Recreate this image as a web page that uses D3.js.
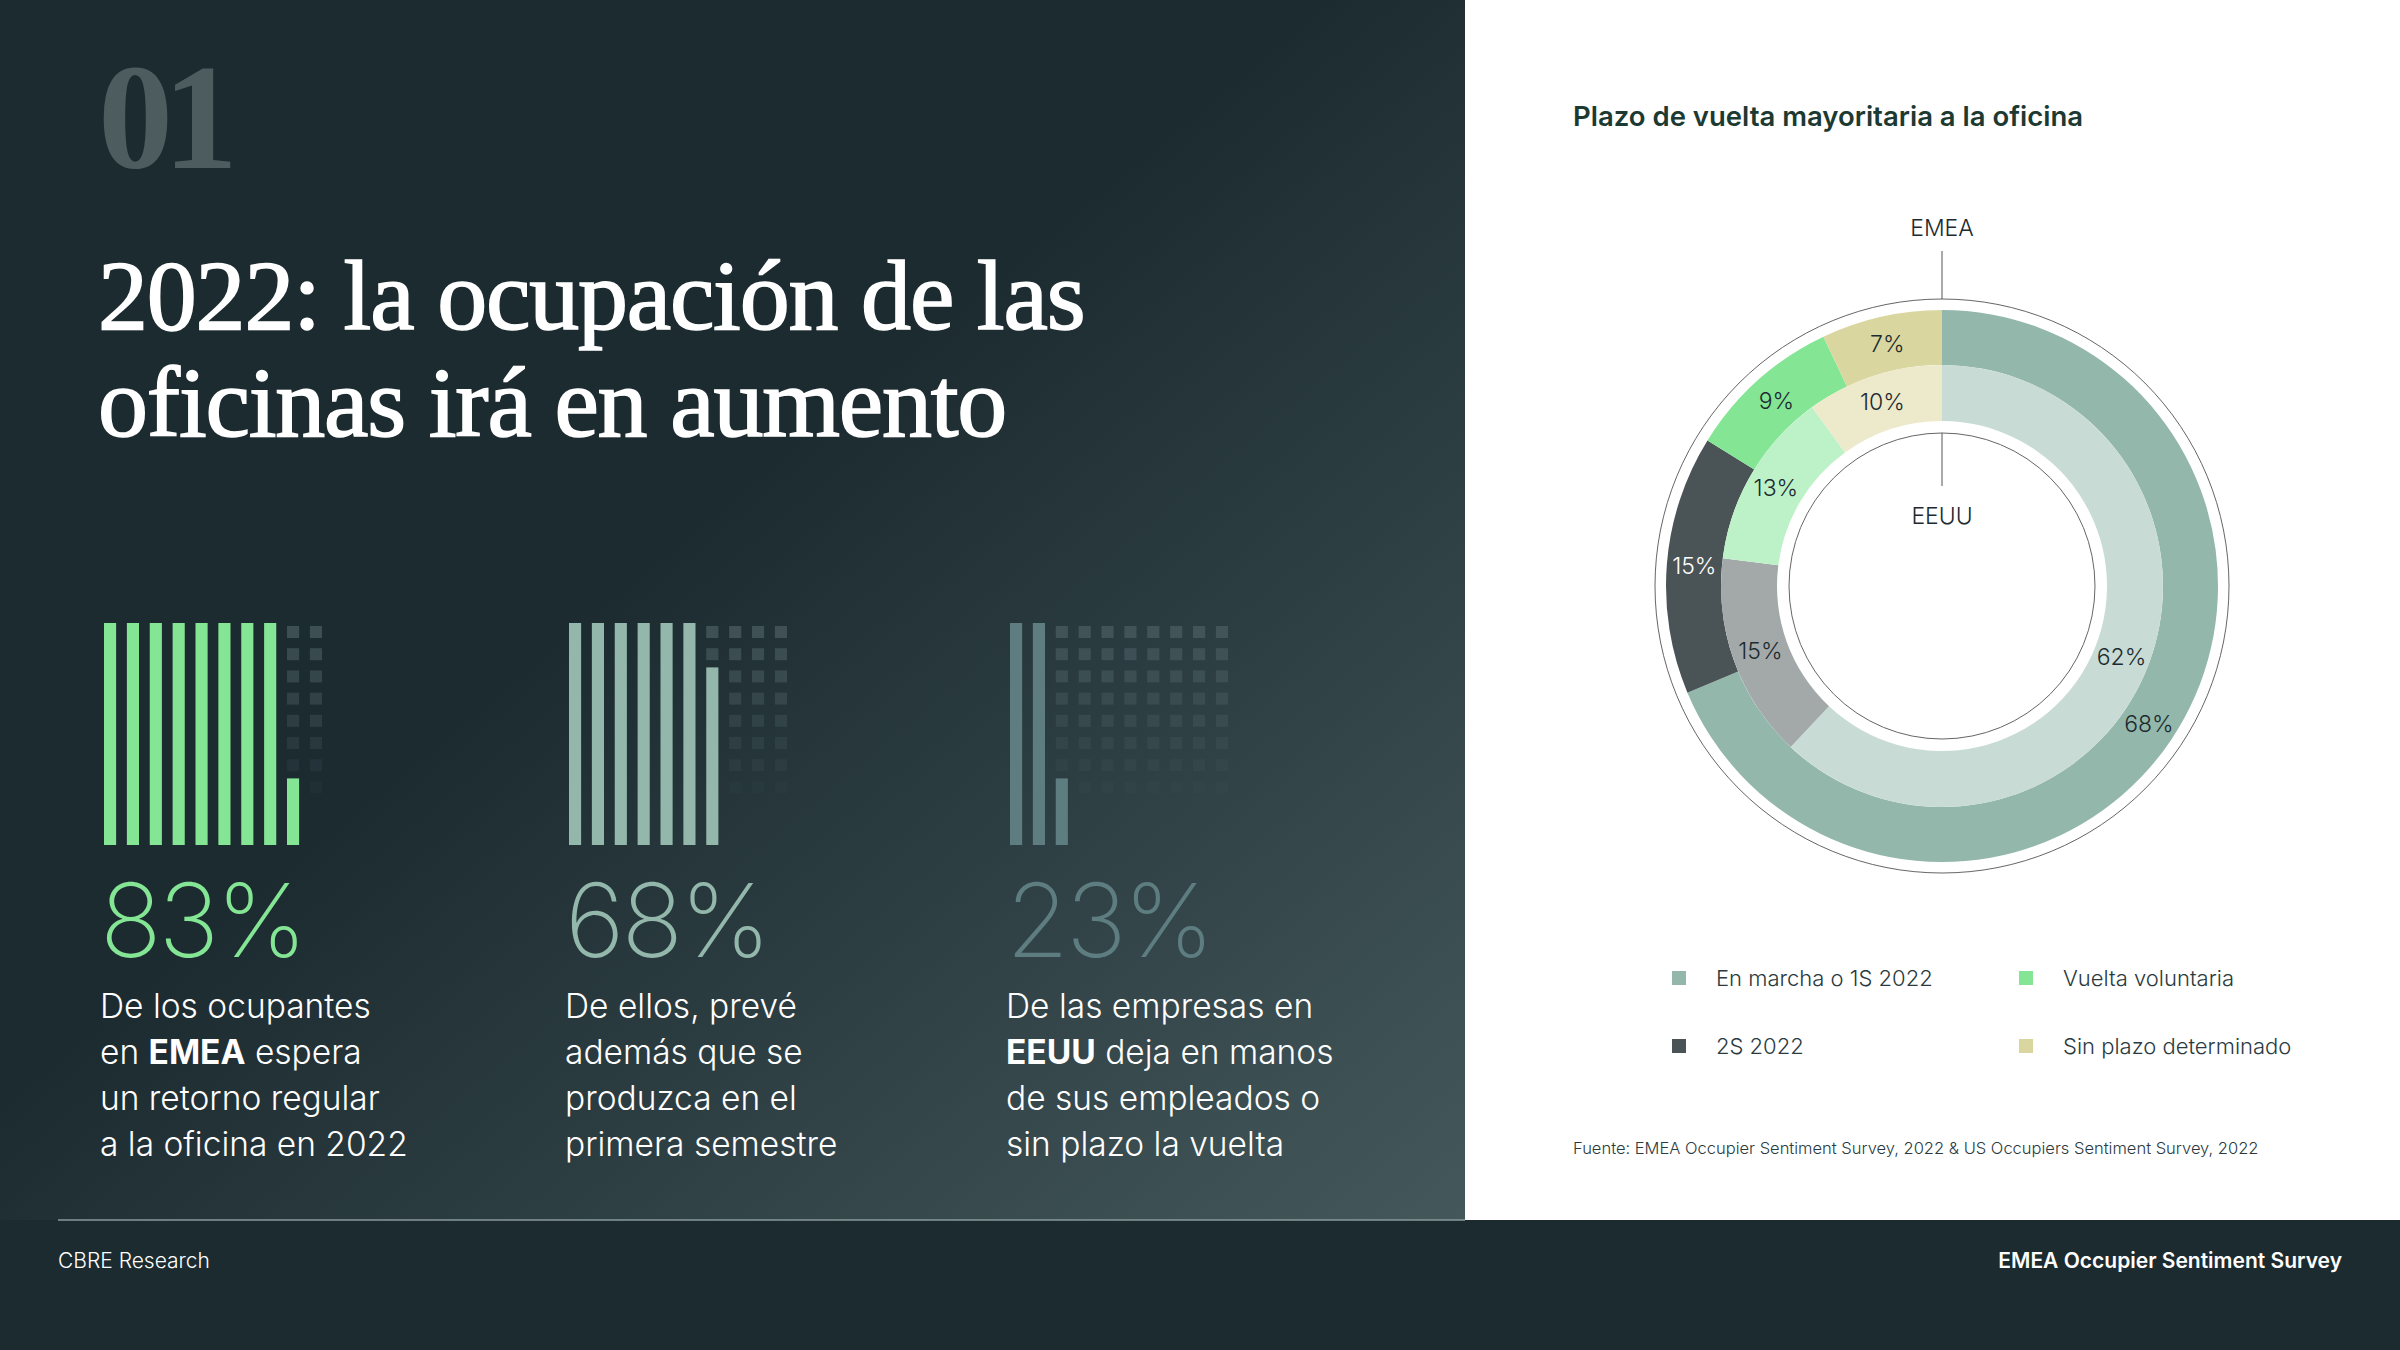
<!DOCTYPE html>
<html><head><meta charset="utf-8">
<script src="https://cdn.jsdelivr.net/npm/d3@7"></script>
<style>body{margin:0;background:#1c2b30}svg{display:block}</style></head>
<body><svg id="c" width="2400" height="1350"></svg>
<script>
const statValues = [83, 68, 23];
const statColors = ["#84e594", "#93b8ab", "#5e7d80"];
const statLines = [
  [["De los ocupantes"], ["en ", "EMEA", " espera"], ["un retorno regular"], ["a la oficina en 2022"]],
  [["De ellos, prevé"], ["además que se"], ["produzca en el"], ["primera semestre"]],
  [["De las empresas en"], ["", "EEUU", " deja en manos"], ["de sus empleados o"], ["sin plazo la vuelta"]]
];
const columnFill = [[1,1,1,1,1,1,1,1,0.3,0],[1,1,1,1,1,1,0.8,0,0,0],[1,1,0.3,0,0,0,0,0,0,0]];
const categories = ["En marcha o 1S 2022", "2S 2022", "Vuelta voluntaria", "Sin plazo determinado"];
const emeaValues = [68, 15, 9, 7];
const eeuuValues = [62, 15, 13, 10];
const emeaColors = ["#93b8ab", "#4a5356", "#84e594", "#d9d79f"];
const eeuuColors = ["#c8dcd5", "#a3a9a9", "#bdf2c8", "#ede9cb"];

const svg = d3.select("#c");
const defs = svg.append("defs");
const g = defs.append("linearGradient").attr("id","bg").attr("x1","0").attr("y1","0").attr("x2","1").attr("y2","1");
g.append("stop").attr("offset","0.45").attr("stop-color","#1c2b30");
g.append("stop").attr("offset","1").attr("stop-color","#44585b");
svg.append("rect").attr("width",2400).attr("height",1350).attr("fill","#1c2b30");
svg.append("rect").attr("width",1465).attr("height",1220).attr("fill","url(#bg)");
svg.append("rect").attr("x",1465).attr("width",935).attr("height",1220).attr("fill","#fff");
svg.append("line").attr("x1",58).attr("x2",1465).attr("y1",1220).attr("y2",1220).attr("stroke","#8a9a9b").attr("stroke-width",1.5);

svg.append("text").attr("x",98).attr("y",168).text("01").attr("font-family","Liberation Serif").attr("font-weight","bold").attr("font-size",150).attr("fill","#4c5c5f").attr("letter-spacing",-10);
["2022: la ocupación de las","oficinas irá en aumento"].forEach((t,i)=>
  svg.append("text").attr("x",98).attr("y",329+i*107).text(t).attr("font-family","Liberation Serif").attr("font-size",100).attr("fill","#fff").attr("stroke","#fff").attr("stroke-width",1.6).attr("letter-spacing",-1.2));

// stat bar charts
const chartX = [104, 569, 1010];
const yB = d3.scaleLinear().domain([0,1]).range([845, 623]);
const xCol = d3.scaleBand().domain(d3.range(10)).paddingInner(0.47).paddingOuter(0);
statValues.forEach((v,k)=>{
  const gg = svg.append("g");
  xCol.range([chartX[k], chartX[k]+218]);
  columnFill[k].forEach((f,c)=>{
    if (f>0) gg.append("rect").attr("x",xCol(c)).attr("width",xCol.bandwidth()).attr("y",yB(f)).attr("height",yB(0)-yB(f)).attr("fill",statColors[k]);
    for (let r=0;r<10;r++){
      const top = 1 - r/10;
      if (top - 0.02 > f && r<8) {
        gg.append("rect").attr("x",xCol(c)).attr("width",xCol.bandwidth()).attr("y",yB(top)+3).attr("height",12)
          .attr("fill","#4a5c60").attr("opacity",0.75*(1-r/8));
      }
    }
  });
  svg.append("text").attr("x",chartX[k]-4).attr("y",957).text(v+"%").attr("font-family","Inter").attr("font-weight",200).attr("font-size",102).attr("fill",statColors[k]).attr("letter-spacing",-3);
  statLines[k].forEach((parts,i)=>{
    const t = svg.append("text").attr("x",chartX[k]-4).attr("y",1018+i*46).attr("font-family","Inter").attr("font-weight",300).attr("font-size",33.5).attr("fill","#fff");
    parts.forEach((p,j)=>t.append("tspan").text(p).attr("font-weight", j===1?700:300));
  });
});

// donut
svg.append("text").attr("x",1573).attr("y",126).text("Plazo de vuelta mayoritaria a la oficina").attr("font-family","Inter").attr("font-weight",600).attr("font-size",27.5).attr("fill","#1c3a32");
const cx=1942, cy=586;
const dg = svg.append("g").attr("transform",`translate(${cx},${cy})`);
const pie = d3.pie().sort(null).value(d=>d);
dg.append("circle").attr("r",287).attr("fill","none").attr("stroke","#666").attr("stroke-width",1);
dg.append("circle").attr("r",153).attr("fill","none").attr("stroke","#666").attr("stroke-width",1);
const arcO = d3.arc().innerRadius(221).outerRadius(276);
const arcI = d3.arc().innerRadius(165).outerRadius(221);
pie(emeaValues).forEach((d,i)=>{
  dg.append("path").attr("d",arcO(d)).attr("fill",emeaColors[i]);
});
pie(eeuuValues).forEach((d,i)=>{
  dg.append("path").attr("d",arcI(d)).attr("fill",eeuuColors[i]);
});
const lab=(arc,d,col)=>{const [x,y]=arc.centroid(d);dg.append("text").attr("x",x).attr("y",y+8).attr("text-anchor","middle").text(d.data+"%").attr("font-family","Inter").attr("font-weight",300).attr("font-size",23).attr("fill",col);};
pie(emeaValues).forEach((d,i)=>lab(arcO,d,i===1?"#fff":"#1c2b30"));
pie(eeuuValues).forEach((d,i)=>lab(arcI,d,"#1c2b30"));
dg.append("line").attr("x1",0).attr("x2",0).attr("y1",-335).attr("y2",-287).attr("stroke","#555");
dg.append("line").attr("x1",0).attr("x2",0).attr("y1",-153).attr("y2",-100).attr("stroke","#555");
dg.append("text").attr("y",-350).attr("text-anchor","middle").text("EMEA").attr("font-family","Inter").attr("font-weight",300).attr("font-size",23).attr("fill","#1c2b30");
dg.append("text").attr("y",-62).attr("text-anchor","middle").text("EEUU").attr("font-family","Inter").attr("font-weight",300).attr("font-size",23).attr("fill","#1c2b30");

// legend
const legPos=[[1679,978],[1679,1046],[2026,978],[2026,1046]];
categories.forEach((c,i)=>{
  svg.append("rect").attr("x",legPos[i][0]-7).attr("y",legPos[i][1]-7).attr("width",14).attr("height",14).attr("fill",emeaColors[i]);
  svg.append("text").attr("x",legPos[i][0]+37).attr("y",legPos[i][1]+8).text(c).attr("font-family","Inter").attr("font-weight",300).attr("font-size",22).attr("fill","#2a3a3e");
});
svg.append("text").attr("x",1573).attr("y",1154).text("Fuente: EMEA Occupier Sentiment Survey, 2022 & US Occupiers Sentiment Survey, 2022").attr("font-family","Inter").attr("font-weight",300).attr("font-size",16.5).attr("fill","#2a3a3e");
svg.append("text").attr("x",58).attr("y",1268).text("CBRE Research").attr("font-family","Inter").attr("font-weight",300).attr("font-size",21).attr("fill","#fff");
svg.append("text").attr("x",2342).attr("y",1268).attr("text-anchor","end").text("EMEA Occupier Sentiment Survey").attr("font-family","Inter").attr("font-weight",600).attr("font-size",21).attr("fill","#fff");
</script></body></html>
